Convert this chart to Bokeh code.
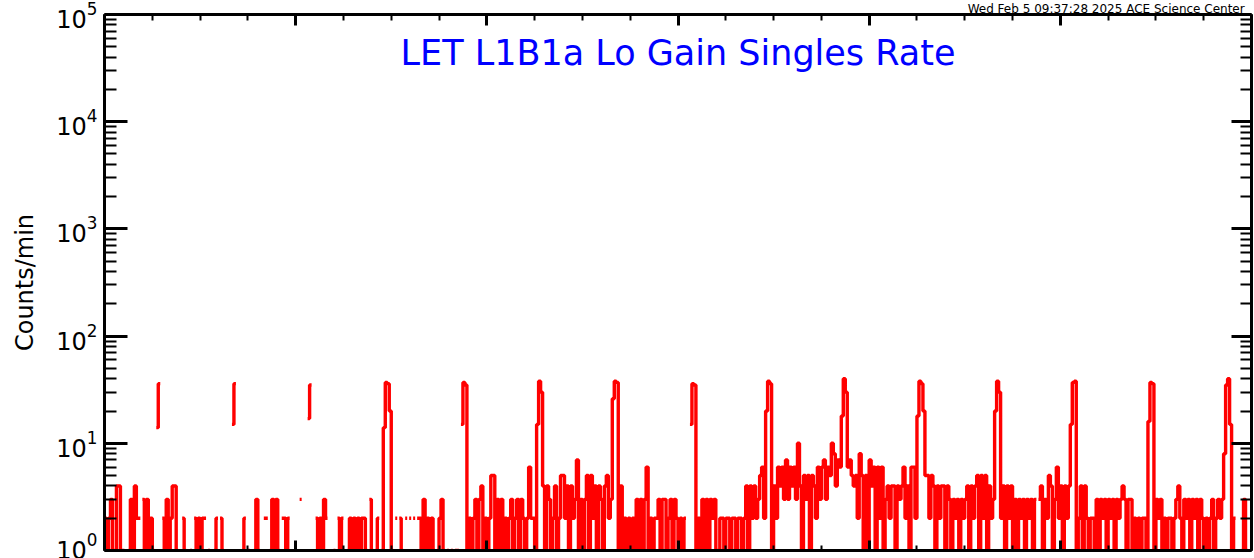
import math
from bokeh.plotting import figure
from bokeh.models import (Range1d, FixedTicker, LogAxis, LinearAxis, Label,
                          CustomJSTickFormatter, ColumnDataSource)
from bokeh.embed import file_html
from bokeh.resources import INLINE

# ---------------- data (counts/min, 2.5-minute bins; 0 = no data) ----------------
rate_h00_04 = [2, 1, 2, 3, 1, 1, 4, 4, 1, 1,
               0, 0, 1, 3, 1, 4, 2, 2, 0, 3,
               1, 3, 1, 2, 1, 0, 14, 36, 0, 2,
               1, 3, 1, 2, 4, 4, 1, 0, 0, 2,
               1, 0, 0, 1, 0, 2, 1, 2, 1, 2,
               2, 0, 1, 0, 0, 1, 2, 0, 2, 1,
               0, 0, 0, 0, 15, 36, 0, 0, 0, 1,
               2, 0, 1, 0, 0, 1, 3, 1, 0, 0,
               2, 2, 0, 1, 3, 1, 3, 1, 0, 2,
               2, 1, 2, 0, 0, 0]
rate_h04_08 = [0, 0, 3, 0, 0, 0, 17, 35, 0, 0,
               2, 1, 2, 1, 3, 2, 0, 0, 0, 1,
               0, 2, 1, 2, 0, 0, 1, 2, 1, 2,
               1, 2, 1, 2, 2, 1, 0, 3, 1, 0,
               1, 2, 0, 1, 14, 37, 36, 20, 1, 0,
               2, 0, 2, 1, 0, 2, 0, 2, 0, 2,
               0, 2, 2, 1, 3, 1, 2, 1, 2, 1,
               0, 1, 2, 3, 1, 0, 1, 0, 1, 0,
               1, 1, 0, 15, 37, 35, 1, 2, 1, 2,
               3, 1, 3, 4, 1, 2]
rate_h08_12 = [1, 2, 5, 5, 1, 3, 1, 3, 1, 2,
               1, 2, 3, 1, 2, 3, 1, 3, 2, 1,
               2, 6, 2, 2, 1, 15, 38, 30, 4, 1,
               4, 3, 1, 2, 4, 1, 2, 5, 5, 2,
               4, 1, 4, 2, 3, 7, 1, 3, 1, 3,
               5, 1, 5, 2, 4, 1, 4, 3, 1, 4,
               5, 2, 3, 26, 38, 37, 1, 4, 1, 2,
               1, 2, 1, 2, 1, 3, 1, 3, 1, 3,
               6, 1, 2, 1, 2, 2, 3, 1, 3, 3,
               1, 2, 3, 1, 3, 2]
rate_h12_16 = [1, 2, 1, 2, 0, 0, 15, 36, 35, 1,
               2, 1, 3, 1, 3, 1, 3, 2, 3, 1,
               1, 2, 2, 1, 2, 2, 1, 2, 2, 1,
               2, 2, 1, 2, 4, 1, 4, 2, 4, 2,
               3, 5, 6, 2, 20, 38, 36, 1, 4, 2,
               6, 4, 6, 3, 7, 3, 6, 4, 6, 3,
               10, 4, 1, 5, 3, 5, 1, 5, 4, 2,
               6, 3, 6, 7, 3, 6, 5, 10, 8, 4,
               7, 6, 18, 40, 30, 6, 7, 5, 4, 5,
               2, 8, 5, 1, 5, 1]
rate_h16_20 = [7, 4, 6, 1, 6, 2, 6, 1, 3, 4,
               2, 4, 4, 1, 4, 3, 4, 6, 2, 4,
               1, 6, 6, 2, 18, 38, 36, 20, 5, 5,
               2, 5, 4, 1, 4, 2, 4, 4, 1, 4,
               3, 1, 3, 2, 3, 1, 3, 2, 3, 4,
               1, 4, 2, 4, 5, 1, 5, 2, 5, 1,
               4, 2, 3, 20, 38, 30, 2, 4, 1, 4,
               2, 4, 1, 3, 1, 3, 2, 3, 1, 3,
               2, 3, 1, 3, 0, 3, 4, 1, 3, 2,
               5, 4, 1, 3, 6, 2]
rate_h20_24 = [4, 1, 4, 2, 4, 15, 37, 38, 1, 2,
               4, 1, 4, 2, 1, 2, 2, 1, 3, 1,
               3, 2, 3, 1, 3, 2, 3, 1, 3, 2,
               3, 4, 3, 1, 3, 3, 1, 2, 1, 2,
               1, 2, 2, 1, 16, 37, 36, 1, 3, 2,
               3, 1, 2, 1, 2, 2, 1, 2, 3, 4,
               2, 1, 3, 2, 3, 1, 3, 2, 3, 1,
               3, 2, 1, 2, 1, 2, 3, 1, 2, 3,
               2, 3, 8, 35, 40, 15, 1, 2, 0, 0,
               0, 1, 3, 1, 0, 0]

bins_per_hour = 24
x_major_ticks = [0, 4, 8, 12, 16, 20, 24]
x_minor_ticks = list(range(0, 25))
y_major_ticks = [1, 10, 100, 1000, 10000, 100000]
y_minor_ticks = [m * 10 ** d for d in range(0, 5) for m in range(2, 10)]

title_text = "LET L1B1a Lo Gain Singles Rate"
stamp_text = "Wed Feb  5 09:37:28 2025 ACE Science Center"
y_label = "Counts/min"

# ---------------- histogram-style path built from the values ----------------
rates = rate_h00_04 + rate_h04_08 + rate_h08_12 + rate_h12_16 + rate_h16_20 + rate_h20_24
xs, ys = [], []
for i, v in enumerate(rates):
    t0 = i / bins_per_hour
    t1 = (i + 1) / bins_per_hour
    if v > 0:
        xs += [t0, t1]
        ys += [v, v]
    else:
        xs.append(float("nan"))
        ys.append(float("nan"))
src = ColumnDataSource(data=dict(x=xs, y=ys))

FONT = "DejaVu Sans"

p = figure(width=1254, height=558,
           x_range=Range1d(0, 24), y_range=Range1d(1, 1e5),
           y_axis_type="log", output_backend="svg", toolbar_location=None,
           min_border_left=104, min_border_right=3, min_border_top=14, min_border_bottom=8,
           background_fill_color="white", border_fill_color="white")
p.outline_line_color = None
p.grid.visible = False

p.line("x", "y", source=src, line_color="#ff0000", line_width=3.4)

blank = CustomJSTickFormatter(code="return ''")

# left axis
yax = p.yaxis[0]
yax.ticker = FixedTicker(ticks=y_major_ticks, minor_ticks=y_minor_ticks)
yax.axis_line_width = 3
yax.major_tick_line_width = 3
yax.minor_tick_line_width = 2
yax.major_tick_in = 23
yax.major_tick_out = 0
yax.minor_tick_in = 12
yax.minor_tick_out = 0
yax.major_label_text_font = FONT
yax.major_label_text_font_size = "24px"
yax.major_label_text_color = "black"
yax.major_label_standoff = 7
yax.axis_label = y_label
yax.axis_label_text_font = FONT
yax.axis_label_text_font_size = "24px"
yax.axis_label_text_font_style = "normal"
yax.axis_label_text_color = "black"
yax.axis_label_standoff = 14

# bottom axis (labels fall outside the window in the reference)
xax = p.xaxis[0]
xax.ticker = FixedTicker(ticks=x_major_ticks, minor_ticks=x_minor_ticks)
xax.formatter = blank
xax.axis_line_width = 3
xax.major_tick_line_width = 3
xax.minor_tick_line_width = 2
xax.major_tick_in = 10
xax.major_tick_out = 0
xax.minor_tick_in = 5
xax.minor_tick_out = 0
xax.major_label_standoff = 0

# top axis (mirrored ticks)
top = LinearAxis(ticker=FixedTicker(ticks=x_major_ticks, minor_ticks=x_minor_ticks),
                 formatter=blank, axis_line_width=3, major_tick_line_width=3,
                 minor_tick_line_width=2, major_tick_in=11, major_tick_out=0,
                 minor_tick_in=6, minor_tick_out=0, major_label_standoff=0,
                 major_label_text_font_size="0px")
p.add_layout(top, "above")

# right axis (mirrored ticks)
right = LogAxis(ticker=FixedTicker(ticks=y_major_ticks, minor_ticks=y_minor_ticks),
                formatter=blank, axis_line_width=3, major_tick_line_width=3,
                minor_tick_line_width=2, major_tick_in=20, major_tick_out=0,
                minor_tick_in=11, minor_tick_out=0, major_label_standoff=0,
                major_label_text_font_size="0px")
p.add_layout(right, "right")

# time stamp as the plot title, top-right above the frame
p.title.text = stamp_text
p.title.align = "right"
p.title.text_font = FONT
p.title.text_font_size = "12px"
p.title.text_font_style = "normal"
p.title.text_color = "black"
p.title.standoff = -2
p.title.offset = 3

# main title inside the frame
p.add_layout(Label(x=12, y=4.42e4, text=title_text, text_align="center",
                   text_baseline="middle", text_color="#0000ff",
                   text_font=FONT, text_font_size="35px"))

open("out.html", "w").write(file_html(p, INLINE))
